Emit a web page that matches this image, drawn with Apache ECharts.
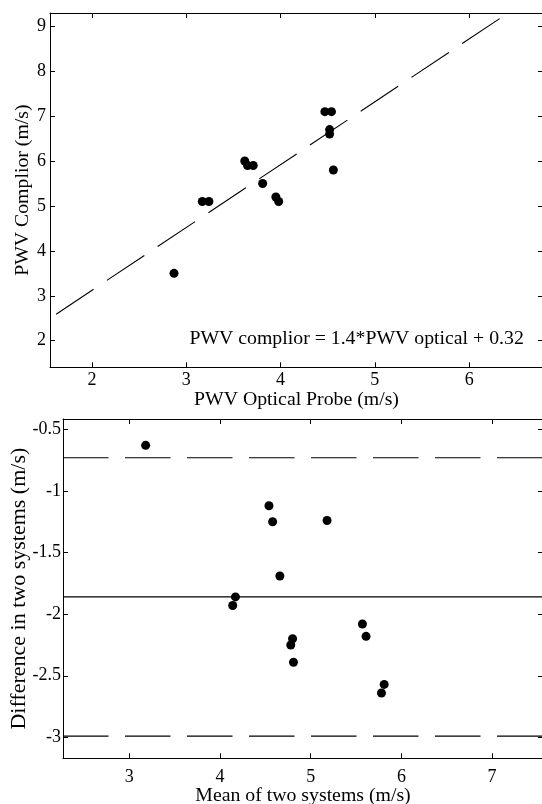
<!DOCTYPE html>
<html>
<head>
<meta charset="utf-8">
<script src="https://cdn.jsdelivr.net/npm/echarts@6/dist/echarts.min.js"></script>
<style>
html,body{margin:0;padding:0;background:#fff;}
#chart{width:542px;height:804px;}
</style>
</head>
<body>
<div id="chart"></div>
<script>
// ---- Data ----
const optical  = [2.87, 3.17, 3.24, 3.62, 3.65, 3.71, 3.81, 3.95, 3.98, 4.47, 4.54, 4.52, 4.52, 4.56];
const complior = [3.50, 5.10, 5.10, 6.00, 5.90, 5.90, 5.50, 5.20, 5.10, 7.10, 7.10, 6.70, 6.60, 5.80];
const fitLineX = [1.62, 6.43];
const fitLineY = [2.59, 9.32];
const equationText = 'PWV complior = 1.4*PWV optical + 0.32';

const meanVals = [3.18, 4.54, 4.58, 5.18, 4.66, 4.17, 4.14, 4.80, 4.78, 4.81, 5.57, 5.61, 5.81, 5.78];
const diffVals = [-0.63, -1.12, -1.25, -1.24, -1.69, -1.86, -1.93, -2.20, -2.25, -2.39, -2.08, -2.18, -2.57, -2.64];
const meanDiff = -1.86;
const upperLoA = -0.73;
const lowerLoA = -2.99;

const topXTicks = [2, 3, 4, 5, 6];
const topYTicks = [2, 3, 4, 5, 6, 7, 8, 9];
const botXTicks = [3, 4, 5, 6, 7];
const botYTicks = [-3, -2.5, -2, -1.5, -1, -0.5];

// axis ranges
const topXRange = [1.555, 6.783];
const topYRange = [1.408, 9.296];
const botXRange = [2.269, 7.561];
const botYRange = [-3.170, -0.416];

// ---- Styling ----
const FONT = 'Liberation Serif, Times New Roman, serif';
const tickFont = 18;
const titleFont = 19.8;

function axisBase(gridIndex, position, range, ticks, showLabel, margin) {
  return {
    type: 'value',
    gridIndex: gridIndex,
    position: position,
    min: range[0],
    max: range[1],
    nameMoveOverlap: false,
    axisLine: { show: true, onZero: false, lineStyle: { color: '#000', width: 1 } },
    axisTick: { show: true, inside: true, length: 5, customValues: ticks, lineStyle: { color: '#000', width: 1 } },
    axisLabel: {
      show: showLabel, customValues: ticks, margin: margin,
      color: '#000', fontFamily: FONT, fontSize: tickFont
    },
    splitLine: { show: false },
    minorTick: { show: false }
  };
}

const xAxes = [
  Object.assign(axisBase(0, 'bottom', topXRange, topXTicks, true, 4), {
    name: 'PWV Optical Probe (m/s)', nameLocation: 'middle', nameGap: 23,
    nameTextStyle: { color: '#000', fontFamily: FONT, fontSize: titleFont }
  }),
  axisBase(0, 'top', topXRange, topXTicks, false, 4),
  Object.assign(axisBase(1, 'bottom', botXRange, botXTicks, true, 10), {
    name: 'Mean of two systems (m/s)', nameLocation: 'middle', nameGap: 28,
    nameTextStyle: { color: '#000', fontFamily: FONT, fontSize: titleFont }
  }),
  axisBase(1, 'top', botXRange, botXTicks, false, 4)
];

const yAxes = [
  Object.assign(axisBase(0, 'left', topYRange, topYTicks, true, 4), {
    name: 'PWV Complior (m/s)', nameLocation: 'middle', nameGap: 17,
    nameTextStyle: { color: '#000', fontFamily: FONT, fontSize: titleFont }
  }),
  axisBase(0, 'right', topYRange, topYTicks, false, 4),
  Object.assign(axisBase(1, 'left', botYRange, botYTicks, true, 2), {
    name: 'Difference in two systems (m/s)', nameLocation: 'middle', nameGap: 33,
    nameTextStyle: { color: '#000', fontFamily: FONT, fontSize: 22 }
  }),
  axisBase(1, 'right', botYRange, botYTicks, false, 4)
];

const topPoints = optical.map((v, i) => [v, complior[i]]);
const botPoints = meanVals.map((v, i) => [v, diffVals[i]]);
const fitPoints = fitLineX.map((v, i) => [v, fitLineY[i]]);

function hLine(value, dashed) {
  return {
    type: 'line', xAxisIndex: 2, yAxisIndex: 2,
    data: [[botXRange[0], value], [botXRange[1], value]],
    symbol: 'none', silent: true, animation: false,
    lineStyle: { color: '#000', width: 1.1, opacity: 1, type: dashed ? [45.5, 16.5] : 'solid' },
    z: 2
  };
}

const chart = echarts.init(document.getElementById('chart'), null, { renderer: 'canvas' });
chart.setOption({
  animation: false,
  backgroundColor: '#fff',
  grid: [
    { left: 50, top: 13, right: -1, bottom: 436.7, containLabel: false, outerBoundsMode: 'none' },
    { left: 63, top: 419, right: -1, bottom: 45.7, containLabel: false, outerBoundsMode: 'none' }
  ],
  xAxis: xAxes,
  yAxis: yAxes,
  graphic: [{
    type: 'text',
    left: 189.4,
    top: 329,
    style: { text: equationText, fill: '#000', font: titleFont + 'px ' + FONT }
  }],
  series: [
    {
      type: 'line', xAxisIndex: 0, yAxisIndex: 0,
      data: fitPoints, symbol: 'none', clip: true, silent: true,
      lineStyle: { color: '#000', width: 1.1, opacity: 1, type: [45, 16] }, z: 2
    },
    {
      type: 'scatter', xAxisIndex: 0, yAxisIndex: 0,
      data: topPoints, symbol: 'circle', symbolSize: 9,
      itemStyle: { color: '#000', opacity: 1 }, z: 3
    },
    hLine(meanDiff, false),
    hLine(upperLoA, true),
    hLine(lowerLoA, true),
    {
      type: 'scatter', xAxisIndex: 2, yAxisIndex: 2,
      data: botPoints, symbol: 'circle', symbolSize: 9,
      itemStyle: { color: '#000', opacity: 1 }, z: 3
    }
  ]
});
</script>
</body>
</html>
